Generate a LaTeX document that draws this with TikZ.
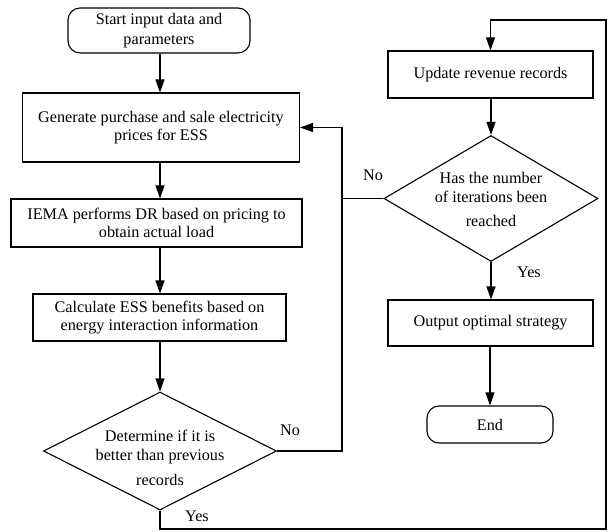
\documentclass[tikz,border=0pt]{standalone}
\usepackage{fontspec}
\setmainfont{Liberation Serif}
\usetikzlibrary{shapes.geometric,arrows.meta}
\begin{document}
\begin{tikzpicture}[x=1pt,y=-1pt,
  every node/.style={font=\fontsize{16.2}{18.5}\selectfont},
  box/.style={draw, line width=1.1pt, inner sep=0pt, align=center},
  term/.style={box, rounded corners=12pt},
  dec/.style={draw, line width=1.1pt, diamond, inner sep=0pt},
  arr/.style={line width=1.1pt, -{Triangle[length=13pt,width=9pt]}},
  ln/.style={line width=1.1pt},
  lbl/.style={inner sep=0pt}
]
\useasboundingbox (0,0) rectangle (608,532);
\node[term, minimum width=182pt, minimum height=45pt, font=\fontsize{16.2}{20}\selectfont] (start) at (159,30.5) {Start input data and\\parameters};
\node[box, minimum width=277pt, minimum height=69pt] (gen) at (161,127.5) {Generate purchase and sale electricity\\prices for ESS};
\node[box, minimum width=291pt, minimum height=48pt] (iema) at (156.5,223) {IEMA performs DR based on pricing to\\obtain actual load};
\node[box, minimum width=253pt, minimum height=47pt] (calc) at (159.5,317.5) {Calculate ESS benefits based on\\energy interaction information};
\node[dec, minimum width=233pt, minimum height=118pt,
  label={[align=center, inner sep=0pt, yshift=-7pt]center:Determine if it is\\better than previous\\[7pt]records}] (d1) at (160,451) {};
\node[box, minimum width=205pt, minimum height=47pt] (upd) at (490.5,74.5) {Update revenue records};
\node[dec, minimum width=214pt, minimum height=126pt,
  label={[align=center, inner sep=0pt, yshift=-1pt]center:Has the number\\of iterations been\\[6pt]reached}] (d2) at (491,198.5) {};
\node[box, minimum width=205pt, minimum height=46pt] (out) at (490.5,323) {Output optimal strategy};
\node[term, minimum width=126pt, minimum height=37pt] (end) at (490,424.5) {End};

\coordinate (jt) at (342,127.5);
\coordinate (c1) at (606,529);
\coordinate (c2) at (606,20);

\draw[arr] (start.south -| 160,0) -- (160,0 |- gen.north);
\draw[arr] (gen.south -| 160,0) -- (160,0 |- iema.north);
\draw[arr] (iema.south -| 160,0) -- (160,0 |- calc.north);
\draw[arr] (calc.south -| 160,0) -- (d1.north);
\draw[arr] (d1.east) -| (jt) -- (gen.east);
\draw[ln] (d2.west) -- (d2.west -| jt);
\draw[arr] (d1.south) |- (c1) -- (c2) -| (upd.north);
\draw[arr] (upd.south -| d2.north) -- (d2.north);
\draw[arr] (d2.south) -- (d2.south |- out.north);
\draw[arr] (out.south -| end.north) -- (end.north);

\node[lbl] (no1) at (290,430) {No};
\node[lbl] (no2) at (373,175) {No};
\node[lbl] (yes1) at (197,516) {Yes};
\node[lbl] (yes2) at (529,272) {Yes};
\end{tikzpicture}
\end{document}
